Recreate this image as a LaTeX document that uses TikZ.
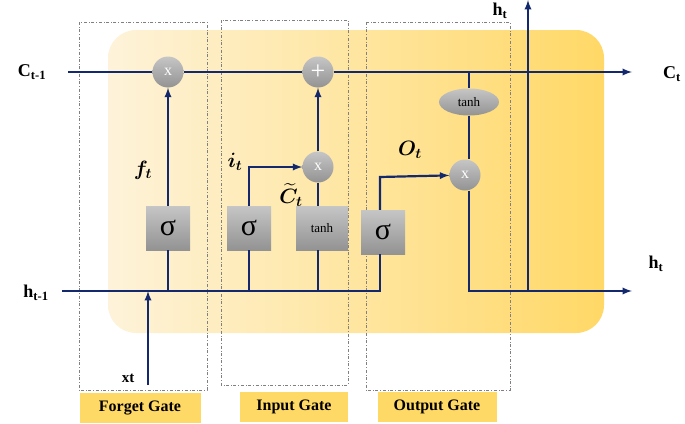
\documentclass[tikz,border=0pt]{standalone}
\usepackage{tikz}
\usepackage{amsmath,bm}
\usepackage{fontspec}
\setmainfont{Liberation Serif}
\usetikzlibrary{shapes.geometric}
\definecolor{navy}{RGB}{20,40,110}
\definecolor{cellL}{RGB}{254,243,218}
\definecolor{cellR}{RGB}{255,216,102}
\definecolor{gatebox}{RGB}{255,217,102}
\tikzset{
  line/.style={navy, line width=2.2pt},
  arr/.style={line, -latex},
  op/.style={circle, minimum size=31pt, inner sep=0pt, text=white, top color=gray!45, bottom color=gray!85, font=\fontsize{16}{18}\selectfont},
  act/.style={rectangle, minimum width=44pt, minimum height=44pt, inner sep=0pt, top color=gray!45, bottom color=gray!85, font=\fontsize{30}{32}\selectfont},
  gate/.style={draw=gray, dash dot, line width=0.6pt},
  glabel/.style={fill=gatebox, minimum height=30pt, font=\bfseries\fontsize{16}{18}\selectfont, inner sep=0pt},
  lab/.style={font=\bfseries\fontsize{18}{20}\selectfont}
}
\begin{document}
\begin{tikzpicture}[x=1pt,y=-1pt]
    \useasboundingbox (0,0) rectangle (685,423);
    % cell body
    \shade[left color=cellL, right color=cellR, rounded corners=28pt] (108,30) rectangle (604,333);

    % gate regions
    \draw[gate] (79,22) rectangle (207,390);
    \draw[gate] (221,20) rectangle (348,385);
    \draw[gate] (366,22) rectangle (510,390);
    \node[glabel, minimum width=121pt] (fgl) at (140,408) {Forget Gate};
    \node[glabel, minimum width=108pt] (igl) at (294,407) {Input Gate};
    \node[glabel, minimum width=119pt] (ogl) at (437,407) {Output Gate};

    % nodes
    \node[op] (fx) at (168,72) {x};
    \node[op, font=\fontsize{26}{28}\selectfont] (add) at (318,72) {+};
    \node[op] (ix) at (318,167) {x};
    \node[op] (ox) at (465,175) {x};
    \node[ellipse, minimum width=60pt, minimum height=27pt, inner sep=0pt, top color=gray!45, bottom color=gray!85, font=\fontsize{13}{14}\selectfont] (otanh) at (469,102) {tanh};
    \node[act] (fs) at (168,228) {σ};
    \node[act] (is) at (249,228) {σ};
    \node[act, minimum width=52pt, font=\fontsize{13}{14}\selectfont] (itanh) at (322,228) {tanh};
    \node[act] (os) at (383,232) {σ};

    \coordinate (cin) at (68,72);
    \coordinate (cout) at (632,72);
    \coordinate (hin) at (62,291);
    \coordinate (hout) at (632,291);
    \coordinate (htop) at (528,0);
    \coordinate (xin) at (148,385);

    % cell state
    \draw[line] (cin) -- (fx);
    \draw[line] (fx) -- (add);
    \draw[arr] (add) -- (cout);

    % hidden input
    \draw[line] (hin) -- (380,291) -- (os.south -| 380,0);
    \draw[arr] (xin) -- (148,291);
    \draw[line] (fs.south) -- (fs.south |- hin);
    \draw[line] (is.south) -- (is.south |- hin);
    \draw[line] (itanh.south -| 318,0) -- (318,291);

    % forget gate
    \draw[arr] (fs.north) -- (fx);
    % input gate
    \draw[arr] (is.north) -- (249,167) -- (ix);
    \draw[line] (itanh.north -| 318,0) -- (ix);
    \draw[arr] (ix) -- (add);
    % output gate
    \draw[arr] (os.north -| 380,0) -- (380,177) -- (ox);
    \draw[line] (469,72) -- (otanh);
    \draw[line] (otanh) -- (ox.north -| 469,0);
    \draw[arr] (ox.south -| 469,0) -- (469,291) -- (hout);
    \draw[arr] (528,291) -- (htop);

    % labels
    \node[lab] at (32,72) {C\textsubscript{t-1}};
    \node[lab] at (672,74) {C\textsubscript{t}};
    \node[lab] at (36,293) {h\textsubscript{t-1}};
    \node[lab] at (656,264) {h\textsubscript{t}};
    \node[lab] at (500,11) {h\textsubscript{t}};
    \node[font=\bfseries\fontsize{15}{16}\selectfont] at (128,378) {xt};
    \node[font=\fontsize{20}{22}\selectfont] at (143,170) {$\bm{f_t}$};
    \node[font=\fontsize{20}{22}\selectfont] at (235,162) {$\bm{i_t}$};
    \node[font=\fontsize{20}{22}\selectfont] at (291,195) {$\bm{\widetilde{C}_t}$};
    \node[font=\fontsize{20}{22}\selectfont] at (410,150) {$\bm{O_t}$};
\end{tikzpicture}
\end{document}
